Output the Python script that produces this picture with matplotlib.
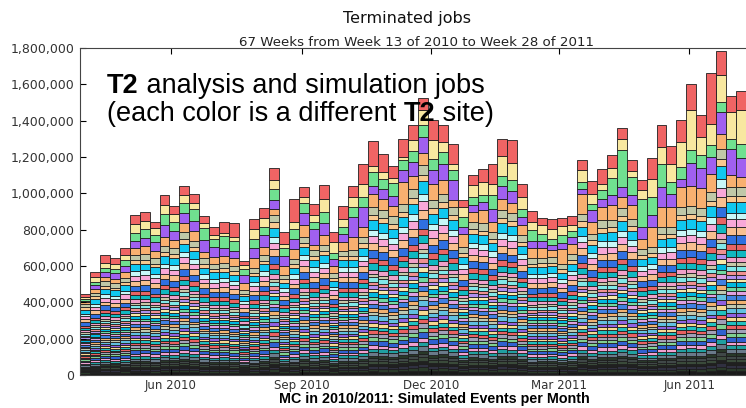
from datetime import datetime, timedelta
import matplotlib
matplotlib.use("Agg")
import matplotlib.pyplot as plt
import matplotlib.dates as mdates
from matplotlib.ticker import FuncFormatter

# Weekly totals (thousands of jobs), week 13 of 2010 .. week 28 of 2011
totals = [445, 565, 659, 645, 701, 883, 896, 843, 989, 929, 1040, 995, 875, 815, 843,
          835, 627, 860, 918, 1137, 787, 967, 1035, 944, 1048, 785, 930, 1040, 1160, 1287,
          1218, 1148, 1297, 1374, 1526, 1401, 1374, 1269, 965, 1103, 1136, 1163, 1300, 1295,
          1053, 901, 866, 861, 864, 873, 1181, 1066, 1132, 1209, 1359, 1181, 1071, 1194,
          1374, 1260, 1401, 1603, 1429, 1663, 1782, 1538, 1566]

# The five largest sites (top of each stack), thousands
site_red = [15, 27, 42, 35, 40, 51, 50, 35, 55, 45, 50, 50, 40, 46, 60, 73, 24, 55, 55, 64,
            68, 124, 55, 64, 77, 51, 70, 60, 106, 134, 100, 64, 97, 80, 70, 110, 92, 106, 40,
            59, 73, 110, 92, 128, 73, 59, 40, 55, 46, 46, 55, 68, 79, 70, 59, 59, 55, 113,
            119, 97, 119, 143, 119, 280, 130, 92, 110]
site_yellow = [10, 24, 27, 25, 30, 51, 40, 35, 49, 40, 45, 30, 28, 18, 20, 24, 20, 59, 46, 51,
               20, 37, 35, 37, 73, 60, 46, 55, 73, 37, 37, 28, 18, 60, 80, 100, 55, 37, 55,
               64, 73, 64, 110, 92, 64, 46, 51, 55, 48, 33, 64, 59, 37, 55, 64, 33, 49, 100,
               92, 100, 137, 220, 100, 119, 150, 146, 183]
site_green = [10, 20, 25, 25, 30, 42, 50, 40, 60, 50, 55, 70, 64, 46, 64, 55, 30, 46, 46, 59,
              46, 55, 55, 37, 64, 37, 37, 55, 55, 73, 55, 73, 55, 60, 64, 64, 64, 55, 55, 46,
              37, 73, 55, 64, 46, 60, 37, 37, 46, 37, 37, 33, 46, 92, 200, 100, 155, 100, 128,
              64, 64, 73, 73, 64, 55, 55, 77]
site_purple = [10, 20, 25, 30, 35, 40, 45, 50, 64, 50, 55, 55, 64, 55, 46, 37, 46, 55, 64, 51,
               55, 55, 64, 92, 64, 37, 46, 110, 110, 46, 55, 55, 64, 80, 92, 73, 92, 110, 37,
               37, 46, 73, 73, 64, 46, 37, 37, 28, 31, 37, 28, 64, 46, 55, 55, 55, 64, 64, 110,
               73, 46, 128, 110, 92, 119, 146, 106]
site_orange = [10, 20, 25, 25, 30, 37, 45, 40, 51, 45, 50, 50, 37, 37, 37, 46, 37, 55, 46, 31,
               46, 55, 64, 28, 55, 37, 46, 73, 55, 73, 64, 55, 119, 70, 64, 92, 73, 37, 73, 55,
               73, 55, 64, 55, 55, 55, 55, 37, 82, 55, 110, 64, 73, 82, 64, 73, 55, 110, 110,
               110, 110, 110, 110, 100, 82, 64, 55]

# Remaining T2 sites, bottom to top: colour and share of the rest of each week
other_colors = ["#1a1a1a", "#2a3a2a", "#303040", "#202020", "#3a4a3a", "#404848", "#283828",
                "#6a7a8a", "#20a0a0", "#f0a0d0", "#3060d0", "#80d090", "#a0a0b8",
                "#e86060", "#20c0c0", "#f8d890", "#9060e0", "#60c0e0", "#c0c8b0", "#f0b070",
                "#4080e0", "#e0a0e0", "#70d8a0", "#00b8e0", "#f8e8a8", "#b090f0",
                "#f09090", "#80e8e8", "#c8c8a8", "#f0a0c8",
                "#10b8c0", "#e86464", "#3070e0", "#f8c090", "#f8a8d8", "#c8f8f8", "#10c8f0",
                "#f8c890", "#c0c8a8"]
other_share = [4, 3, 3, 3, 3, 3, 3, 4, 4, 4, 5, 4, 4, 4, 4, 4, 4, 5, 4, 4, 5, 4, 4, 5, 4, 4,
               4, 5, 4, 5, 7, 6, 9, 8, 8, 7, 11, 6, 9]

top_sites = [site_orange, site_purple, site_green, site_yellow, site_red]
top_colors = ["#f8b070", "#a060f0", "#70e090", "#f8e8a0", "#f06464"]

start = datetime(2010, 3, 29)
weeks = [mdates.date2num(start + timedelta(weeks=i)) for i in range(len(totals))]

fig = plt.figure(figsize=(7.46, 4.08), dpi=100)
ax = fig.add_axes([80 / 746, 1 - 375 / 408, 666 / 746, 327 / 408])

bottom = [0.0] * len(totals)
share_sum = sum(other_share)
rest = [totals[i] - sum(s[i] for s in top_sites) for i in range(len(totals))]
for c, sh in zip(other_colors, other_share):
    h = [rest[i] * sh / share_sum * 1000 for i in range(len(totals))]
    ax.bar(weeks, h, width=7, bottom=bottom, align="edge", color=c,
           edgecolor="#1e1e1e", linewidth=0.6)
    bottom = [b + v for b, v in zip(bottom, h)]
for c, s in zip(top_colors, top_sites):
    h = [v * 1000 for v in s]
    ax.bar(weeks, h, width=7, bottom=bottom, align="edge", color=c,
           edgecolor="#1e1e1e", linewidth=0.6)
    bottom = [b + v for b, v in zip(bottom, h)]

ax.set_xlim(weeks[0], weeks[-1] + 7)
ax.set_ylim(0, 1800000)
ax.set_yticks(range(0, 1800001, 200000))
ax.yaxis.set_major_formatter(FuncFormatter(lambda v, p: f"{int(v):,}"))
ticks = [datetime(2010, 6, 1), datetime(2010, 9, 1), datetime(2010, 12, 1),
         datetime(2011, 3, 1), datetime(2011, 6, 1)]
ax.set_xticks([mdates.date2num(t) for t in ticks])
ax.xaxis.set_major_formatter(mdates.DateFormatter("%b %Y"))
ax.tick_params(axis="x", direction="in", top=True, length=4, labelsize=8.5,
               labelcolor="#333333", pad=3)
ax.tick_params(axis="y", direction="in", length=4, labelsize=9,
               labelcolor="#333333", pad=4)
ax.spines["right"].set_visible(False)
for sp in ["left", "top", "bottom"]:
    ax.spines[sp].set_color("#444444")

fig.text(407 / 746, 1 - 18 / 408, "Terminated jobs", ha="center", va="center",
         fontsize=11.5, color="#111111")
fig.text(416 / 746, 1 - 42 / 408, "67 Weeks from Week 13 of 2010 to Week 28 of 2011",
         ha="center", va="center", fontsize=9.6, color="#222222")

big = 19.5
t1 = fig.text(107 / 746, 1 - 86 / 408, "T2", ha="left", va="center", fontsize=big,
              fontweight="bold", family="Liberation Sans")
ax.annotate(" analysis and simulation jobs", xy=(1, 0), xycoords=t1, va="bottom",
            ha="left", fontsize=big, family="Liberation Sans", annotation_clip=False)
t2 = fig.text(107 / 746, 1 - 114 / 408, "(each color is a different ", ha="left",
              va="center", fontsize=big, family="Liberation Sans")
t3 = ax.annotate("T2", xy=(1, 0), xycoords=t2, va="bottom", ha="left", fontsize=big,
                 fontweight="bold", family="Liberation Sans", annotation_clip=False)
ax.annotate(" site)", xy=(1, 0), xycoords=t3, va="bottom", ha="left", fontsize=big,
            family="Liberation Sans", annotation_clip=False)

fig.text(434 / 746, 1 - 399 / 408, "MC in 2010/2011: Simulated Events per Month",
         ha="center", va="center", fontsize=10.3, fontweight="bold", family="Liberation Sans")

fig.savefig("out.png", dpi=100)
